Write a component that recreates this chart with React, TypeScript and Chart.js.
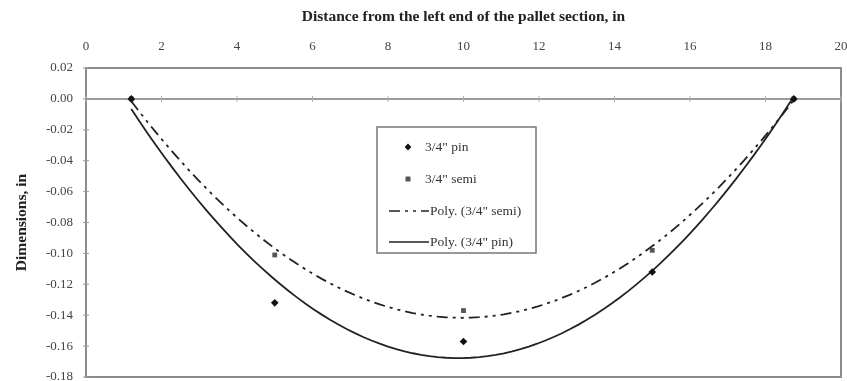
import { useEffect, useRef } from 'react';
import { Chart, registerables } from 'chart.js';

Chart.register(...registerables);

// Measured deflection along the pallet section
const positions = [1.2, 5, 10, 15, 18.75];
const pinValues = [0, -0.132, -0.157, -0.112, 0];
const semiValues = [0, -0.101, -0.137, -0.098, 0];

const xTickValues = [0, 2, 4, 6, 8, 10, 12, 14, 16, 18, 20];
const yTickValues = [0.02, 0, -0.02, -0.04, -0.06, -0.08, -0.1, -0.12, -0.14, -0.16, -0.18];

const legendLabels = ['3/4" pin', '3/4" semi', 'Poly. (3/4" semi)', 'Poly. (3/4" pin)'];

const SERIF = '"Liberation Serif", "Times New Roman", serif';
const SEMI_DASH = [11, 5, 3, 5, 3, 5];

// Least-squares second-order polynomial (Excel "Poly." trendline)
function quadFit(xs: number[], ys: number[]): [number, number, number] {
  let s0 = 0, s1 = 0, s2 = 0, s3 = 0, s4 = 0, t0 = 0, t1 = 0, t2 = 0;
  xs.forEach((x, i) => {
    const y = ys[i];
    s0 += 1; s1 += x; s2 += x * x; s3 += x * x * x; s4 += x * x * x * x;
    t0 += y; t1 += x * y; t2 += x * x * y;
  });
  const m = [
    [s4, s3, s2, t2],
    [s3, s2, s1, t1],
    [s2, s1, s0, t0],
  ];
  for (let c = 0; c < 3; c++) {
    for (let r = c + 1; r < 3; r++) {
      const f = m[r][c] / m[c][c];
      for (let k = c; k < 4; k++) m[r][k] -= f * m[c][k];
    }
  }
  const sol = [0, 0, 0];
  for (let r = 2; r >= 0; r--) {
    let v = m[r][3];
    for (let k = r + 1; k < 3; k++) v -= m[r][k] * sol[k];
    sol[r] = v / m[r][r];
  }
  return [sol[0], sol[1], sol[2]];
}

function trendPoints(xs: number[], ys: number[]) {
  const [a, b, c] = quadFit(xs, ys);
  const x0 = xs[0];
  const x1 = xs[xs.length - 1];
  const n = 80;
  const pts: { x: number; y: number }[] = [];
  for (let i = 0; i <= n; i++) {
    const x = x0 + ((x1 - x0) * i) / n;
    pts.push({ x, y: a * x * x + b * x + c });
  }
  return pts;
}

const noOverhang = (s: any) => {
  s.paddingLeft = 0;
  s.paddingRight = 0;
  s.paddingTop = 0;
  s.paddingBottom = 0;
};

const framePlugin = {
  id: 'frame',
  beforeDatasetsDraw(chart: any) {
    const { ctx, chartArea: a, scales } = chart;
    ctx.save();
    ctx.strokeStyle = '#8c8c8c';
    ctx.lineWidth = 2;
    ctx.strokeRect(a.left, a.top, a.right - a.left, a.bottom - a.top);
    // zero line acting as the horizontal axis
    const y0 = scales.y.getPixelForValue(0);
    ctx.strokeStyle = '#7a7a7a';
    ctx.lineWidth = 1.5;
    ctx.beginPath();
    ctx.moveTo(a.left, y0);
    ctx.lineTo(a.right, y0);
    ctx.stroke();
    ctx.lineWidth = 1;
    ctx.strokeStyle = '#b0b0b0';
    xTickValues.forEach((v) => {
      const x = scales.x.getPixelForValue(v);
      ctx.beginPath();
      ctx.moveTo(x, y0 - 3);
      ctx.lineTo(x, y0 + 3);
      ctx.stroke();
    });
    ctx.strokeStyle = '#9a9a9a';
    yTickValues.forEach((v) => {
      const y = scales.y.getPixelForValue(v);
      ctx.beginPath();
      ctx.moveTo(a.left - 3, y);
      ctx.lineTo(a.left + 3, y);
      ctx.stroke();
    });
    ctx.restore();
  },
};

const legendBoxPlugin = {
  id: 'legendBox',
  afterDatasetsDraw(chart: any) {
    const { ctx } = chart;
    const left = 377, top = 127, right = 536, bottom = 253;
    ctx.save();
    ctx.fillStyle = '#ffffff';
    ctx.fillRect(left, top, right - left, bottom - top);
    ctx.strokeStyle = '#777777';
    ctx.lineWidth = 1.5;
    ctx.strokeRect(left, top, right - left, bottom - top);
    ctx.font = `13.5px ${SERIF}`;
    ctx.textBaseline = 'middle';
    const rows = [147, 179, 211, 242];
    // pin marker
    ctx.save();
    ctx.translate(408, rows[0]);
    ctx.rotate(Math.PI / 4);
    ctx.fillStyle = '#111111';
    ctx.fillRect(-2.4, -2.4, 4.8, 4.8);
    ctx.restore();
    // semi marker
    ctx.fillStyle = '#555555';
    ctx.fillRect(405.5, rows[1] - 2.5, 5, 5);
    // trendline samples
    ctx.strokeStyle = '#222222';
    ctx.lineWidth = 1.6;
    ctx.setLineDash(SEMI_DASH);
    ctx.beginPath();
    ctx.moveTo(389, rows[2]);
    ctx.lineTo(429, rows[2]);
    ctx.stroke();
    ctx.setLineDash([]);
    ctx.beginPath();
    ctx.moveTo(389, rows[3]);
    ctx.lineTo(429, rows[3]);
    ctx.stroke();
    ctx.fillStyle = '#333333';
    ctx.fillText(legendLabels[0], 425, rows[0]);
    ctx.fillText(legendLabels[1], 425, rows[1]);
    ctx.fillText(legendLabels[2], 430, rows[2]);
    ctx.fillText(legendLabels[3], 430, rows[3]);
    ctx.restore();
  },
};

export default function App() {
  const canvasRef = useRef<HTMLCanvasElement | null>(null);

  useEffect(() => {
    document.body.style.margin = '0';
    const canvas = canvasRef.current;
    if (!canvas) return;

    const toXY = (ys: number[]) => positions.map((x, i) => ({ x, y: ys[i] }));

    const chart = new Chart(canvas, {
      type: 'scatter',
      data: {
        datasets: [
          {
            label: legendLabels[0],
            data: toXY(pinValues),
            pointStyle: 'rectRot',
            pointRadius: 3.8,
            backgroundColor: '#111111',
            borderColor: '#111111',
            borderWidth: 0,
            showLine: false,
          },
          {
            label: legendLabels[1],
            data: toXY(semiValues),
            pointStyle: 'rect',
            pointRadius: 3.4,
            backgroundColor: '#555555',
            borderColor: '#555555',
            borderWidth: 0,
            showLine: false,
          },
          {
            label: legendLabels[2],
            data: trendPoints(positions, semiValues),
            showLine: true,
            pointRadius: 0,
            borderColor: '#222222',
            borderWidth: 1.8,
            borderDash: SEMI_DASH,
            tension: 0,
          },
          {
            label: legendLabels[3],
            data: trendPoints(positions, pinValues),
            showLine: true,
            pointRadius: 0,
            borderColor: '#222222',
            borderWidth: 1.8,
            tension: 0,
          },
        ],
      },
      options: {
        responsive: false,
        animation: false,
        layout: { padding: { left: 0, right: 6, top: 0, bottom: 1 } },
        plugins: {
          legend: { display: false },
          tooltip: { enabled: false },
        },
        scales: {
          x: {
            type: 'linear',
            position: 'top',
            min: 0,
            max: 20,
            afterBuildTicks: (s: any) => {
              s.ticks = xTickValues.map((v) => ({ value: v }));
            },
            afterFit: (s: any) => {
              s.height = 68;
              noOverhang(s);
            },
            ticks: {
              padding: 14,
              color: '#444444',
              font: { family: SERIF, size: 13 },
              maxRotation: 0,
              callback: (v: any) => String(v),
            },
            grid: { display: false, drawTicks: false },
            border: { display: false },
            title: {
              display: true,
              text: 'Distance from the left end of the pallet section, in',
              color: '#222222',
              font: { family: SERIF, size: 15.5, weight: 'bold' },
              padding: { top: 8, bottom: 4 },
            },
          },
          y: {
            type: 'linear',
            min: -0.18,
            max: 0.02,
            afterBuildTicks: (s: any) => {
              s.ticks = yTickValues.map((v) => ({ value: v }));
            },
            afterFit: (s: any) => {
              s.width = 86;
              noOverhang(s);
            },
            ticks: {
              padding: 13,
              color: '#444444',
              font: { family: SERIF, size: 13 },
              callback: (v: any) => Number(v).toFixed(2),
            },
            grid: { display: false, drawTicks: false },
            border: { display: false },
            title: {
              display: true,
              text: 'Dimensions, in',
              color: '#222222',
              font: { family: SERIF, size: 15.5, weight: 'bold' },
              padding: { top: 13, bottom: 4 },
            },
          },
        },
      },
      plugins: [framePlugin, legendBoxPlugin],
    } as any);

    return () => chart.destroy();
  }, []);

  return (
    <div style={{ width: 847, height: 381, background: '#ffffff' }}>
      <canvas ref={canvasRef} width={847} height={381} style={{ display: 'block' }} />
    </div>
  );
}
